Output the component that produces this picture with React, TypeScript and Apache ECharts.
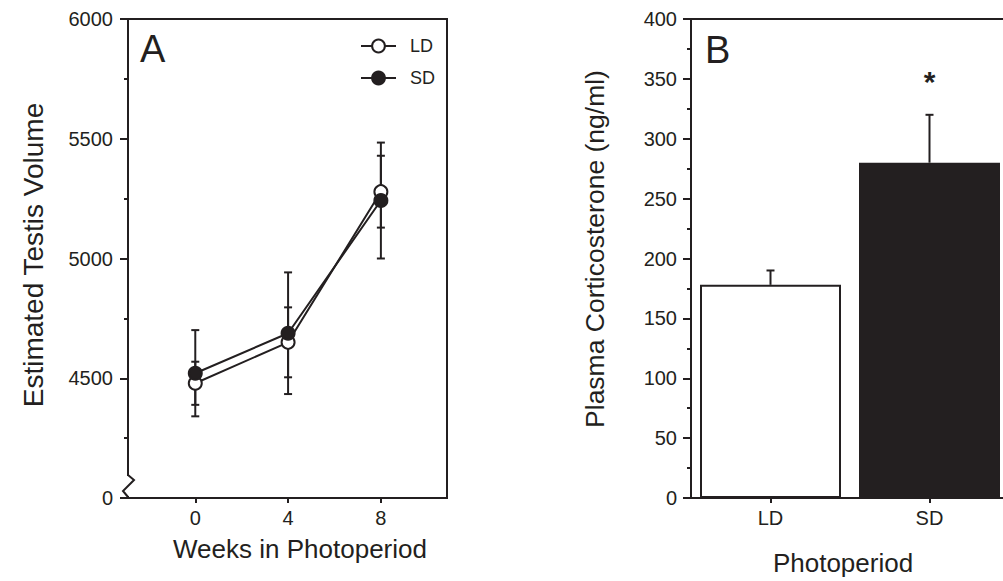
import React, { useEffect, useRef } from "react";
import * as echarts from "echarts";

// ---- Data ----
const weeks = [0, 4, 8];
const ldVolume = [4479, 4650, 5279];
const ldVolumeErr = [90, 146, 150];
const sdVolume = [4521, 4688, 5242];
const sdVolumeErr = [180, 254, 242];

const groups = ["LD", "SD"];
const corticosterone = [178, 280];
const corticosteroneErr = [12, 40];
const significance = ["", "*"];
const significanceLevel = 350;

const volumeTicks = [0, 4, 8];

const INK = "#231f20";
const FONT = "'Liberation Sans', Arial, Helvetica, sans-serif";

function errorBarsA(values: number[], errs: number[]) {
  return weeks.map((w, i) => [w, values[i], errs[i]]);
}

const renderErrA = (params: any, api: any) => {
  const x = api.value(0);
  const y = api.value(1);
  const e = api.value(2);
  const top = api.coord([x, y + e]);
  const bot = api.coord([x, y - e]);
  const hw = 4;
  const style = { stroke: INK, lineWidth: 2 };
  return {
    type: "group",
    children: [
      { type: "line", shape: { x1: top[0], y1: top[1], x2: bot[0], y2: bot[1] }, style },
      { type: "line", shape: { x1: top[0] - hw, y1: top[1], x2: top[0] + hw, y2: top[1] }, style },
      { type: "line", shape: { x1: bot[0] - hw, y1: bot[1], x2: bot[0] + hw, y2: bot[1] }, style },
    ],
  };
};

const renderErrB = (params: any, api: any) => {
  const i = api.value(0);
  const v = api.value(1);
  const e = api.value(2);
  const base = api.coord([i, v]);
  const top = api.coord([i, v + e]);
  const star = api.coord([i, significanceLevel]);
  const hw = 4;
  const style = { stroke: INK, lineWidth: 2 };
  const children: any[] = [
    { type: "line", shape: { x1: base[0], y1: base[1], x2: top[0], y2: top[1] }, style },
    { type: "line", shape: { x1: top[0] - hw, y1: top[1], x2: top[0] + hw, y2: top[1] }, style },
  ];
  const s = significance[params.dataIndex];
  if (s) {
    children.push({
      type: "text",
      x: star[0],
      y: star[1] + 3,
      style: {
        text: s,
        fill: INK,
        font: `bold 30px ${FONT}`,
        align: "center",
        verticalAlign: "middle",
      },
    });
  }
  return { type: "group", children };
};

export default function App() {
  const ref = useRef<HTMLDivElement>(null);

  useEffect(() => {
    if (!ref.current) return;
    const chart = echarts.init(ref.current, undefined, { renderer: "svg" });

    const axisLine = { show: true, onZero: false, lineStyle: { color: INK, width: 2 } };
    const labelStyle = { color: INK, fontSize: 20, fontFamily: FONT };

    const option: any = {
      animation: false,
      backgroundColor: "#fff",
      textStyle: { fontFamily: FONT, color: INK },
      grid: [
        {
          left: 128,
          top: 19,
          width: 319,
          height: 479,
          show: true,
          borderColor: INK,
          borderWidth: 2,
          backgroundColor: "transparent",
          outerBoundsMode: "none",
          containLabel: false,
        },
        {
          left: 691,
          top: 19,
          width: 318,
          height: 479,
          show: true,
          borderColor: INK,
          borderWidth: 2,
          backgroundColor: "transparent",
          outerBoundsMode: "none",
          containLabel: false,
        },
      ],
      legend: {
        data: ["LD", "SD"],
        orient: "vertical",
        left: 355,
        top: 32,
        itemWidth: 35,
        itemHeight: 16,
        itemGap: 14,
        textStyle: { color: INK, fontSize: 18, fontFamily: FONT, padding: [0, 0, 0, 9] },
        selectedMode: false,
      },
      xAxis: [
        {
          type: "value",
          gridIndex: 0,
          min: -2.9,
          max: 10.85,
          axisLine,
          splitLine: { show: false },
          axisTick: { show: true, length: 5, lineStyle: { color: INK, width: 2 }, customValues: volumeTicks },
          axisLabel: { ...labelStyle, margin: 10, customValues: volumeTicks },
        },
        {
          type: "category",
          gridIndex: 1,
          data: groups,
          axisLine,
          axisTick: { show: true, alignWithLabel: true, length: 5, lineStyle: { color: INK, width: 2 } },
          axisLabel: { ...labelStyle, margin: 10 },
        },
      ],
      yAxis: [
        {
          type: "value",
          gridIndex: 0,
          min: 4000,
          max: 6000,
          interval: 500,
          axisLine,
          splitLine: { show: false },
          axisTick: { show: true, length: 8, lineStyle: { color: INK, width: 2 } },
          minorTick: { show: true, splitNumber: 2, length: 4, lineStyle: { color: INK, width: 2 } },
          axisLabel: {
            ...labelStyle,
            margin: 15,
            formatter: (v: number) => (v === 4000 ? "0" : String(v)),
          },
        },
        {
          type: "value",
          gridIndex: 1,
          min: 0,
          max: 400,
          interval: 50,
          axisLine,
          splitLine: { show: false },
          axisTick: { show: true, length: 8, lineStyle: { color: INK, width: 2 } },
          minorTick: { show: true, splitNumber: 2, length: 4, lineStyle: { color: INK, width: 2 } },
          axisLabel: { ...labelStyle, margin: 14 },
        },
      ],
      series: [
        {
          name: "LD err",
          type: "custom",
          xAxisIndex: 0,
          yAxisIndex: 0,
          data: errorBarsA(ldVolume, ldVolumeErr),
          renderItem: renderErrA,
          encode: { x: 0, y: 1 },
          z: 2,
          clip: false,
        },
        {
          name: "SD err",
          type: "custom",
          xAxisIndex: 0,
          yAxisIndex: 0,
          data: errorBarsA(sdVolume, sdVolumeErr),
          renderItem: renderErrA,
          encode: { x: 0, y: 1 },
          z: 2,
          clip: false,
        },
        {
          name: "LD",
          type: "line",
          xAxisIndex: 0,
          yAxisIndex: 0,
          data: weeks.map((w, i) => [w, ldVolume[i]]),
          symbol: "circle",
          symbolSize: 13,
          lineStyle: { color: INK, width: 2 },
          itemStyle: { color: "#ffffff", borderColor: INK, borderWidth: 2 },
          z: 3,
        },
        {
          name: "SD",
          type: "line",
          xAxisIndex: 0,
          yAxisIndex: 0,
          data: weeks.map((w, i) => [w, sdVolume[i]]),
          symbol: "circle",
          symbolSize: 13,
          lineStyle: { color: INK, width: 2 },
          itemStyle: { color: INK, borderColor: INK, borderWidth: 2 },
          z: 4,
        },
        {
          name: "Corticosterone",
          type: "bar",
          xAxisIndex: 1,
          yAxisIndex: 1,
          barWidth: 141,
          data: corticosterone.map((v, i) => ({
            value: v,
            itemStyle: { color: i === 0 ? "#ffffff" : INK },
          })),
          itemStyle: { borderColor: INK, borderWidth: 2 },
          z: 2,
        },
        {
          name: "Corticosterone err",
          type: "custom",
          xAxisIndex: 1,
          yAxisIndex: 1,
          data: corticosterone.map((v, i) => [i, v, corticosteroneErr[i]]),
          renderItem: renderErrB,
          encode: { x: 0, y: 1 },
          z: 3,
          clip: false,
        },
      ],
      graphic: [
        // axis break on panel A y-axis
        {
          type: "rect",
          z: 100,
          shape: { x: 123, y: 476, width: 10, height: 20 },
          style: { fill: "#fff" },
        },
        {
          type: "polyline",
          z: 101,
          shape: { points: [[128, 475], [134, 480], [123, 491], [128, 497]] },
          style: { stroke: INK, lineWidth: 2, fill: null },
        },
        {
          type: "text",
          x: 140,
          y: 49,
          style: { text: "A", fill: INK, fontSize: 38, fontFamily: FONT, align: "left", verticalAlign: "middle" },
        },
        {
          type: "text",
          x: 705,
          y: 50,
          style: { text: "B", fill: INK, fontSize: 38, fontFamily: FONT, align: "left", verticalAlign: "middle" },
        },
        {
          type: "text",
          x: 33,
          y: 255,
          rotation: Math.PI / 2,
          style: { text: "Estimated Testis Volume", fill: INK, fontSize: 28, fontFamily: FONT, align: "center", verticalAlign: "middle" },
        },
        {
          type: "text",
          x: 300,
          y: 549,
          style: { text: "Weeks in Photoperiod", fill: INK, fontSize: 26, fontFamily: FONT, align: "center", verticalAlign: "middle" },
        },
        {
          type: "text",
          x: 595,
          y: 249,
          rotation: Math.PI / 2,
          style: { text: "Plasma Corticosterone (ng/ml)", fill: INK, fontSize: 26.5, fontFamily: FONT, align: "center", verticalAlign: "middle" },
        },
        {
          type: "text",
          x: 843,
          y: 563,
          style: { text: "Photoperiod", fill: INK, fontSize: 26, fontFamily: FONT, align: "center", verticalAlign: "middle" },
        },
      ],
    };

    chart.setOption(option);
    return () => chart.dispose();
  }, []);

  return (
    <div
      ref={ref}
      style={{ position: "fixed", left: 0, top: 0, width: 1003, height: 581, background: "#fff" }}
    />
  );
}
